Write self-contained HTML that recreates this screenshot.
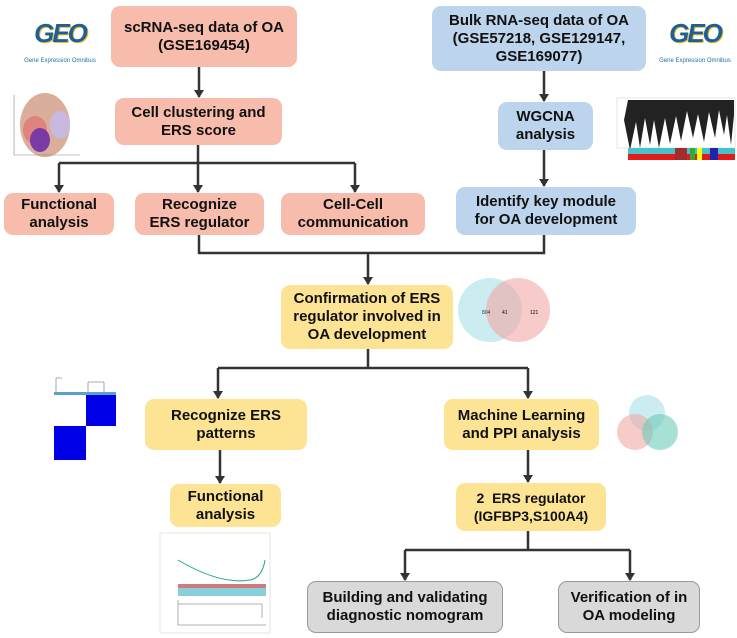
<!DOCTYPE html>
<html><head><style>
body{margin:0;width:737px;height:638px;background:#fff;position:relative;overflow:hidden;font-family:"Liberation Sans",sans-serif}
.b{position:absolute;display:flex;align-items:center;justify-content:center;text-align:center;font-weight:bold;font-size:15px;line-height:18px;color:#111;border-radius:9px;box-sizing:border-box}
.r{background:#f7bcab}.u{background:#bcd5ec}.y{background:#fde495}.g{background:#d9d9d9;border:1.5px solid #999}
svg{position:absolute;left:0;top:0}
.geo{position:absolute;text-align:center;color:#1b6fa8}
.geo b{display:block;font-size:26px;letter-spacing:-2px;font-style:italic;color:#1e5f9b;text-shadow:1px 1px 0 #e7c224}
.geo span{font-size:6px}
</style></head><body>
<svg width="737" height="638">
<g stroke="#333" stroke-width="2.5" fill="none">
<path d="M199 67V97"/><path d="M198 145V163"/><path d="M59 163H355"/><path d="M59 163V192M198 163V192M355 163V192"/>
<path d="M544 71V101"/><path d="M544 150V186"/>
<path d="M199 235V253H544V235"/><path d="M368 253V284"/>
<path d="M368 349V368"/><path d="M218 368H528"/><path d="M218 368V398M528 368V398"/>
<path d="M220 450V483"/><path d="M528 450V482"/>
<path d="M528 531V550"/><path d="M405 550H630"/><path d="M405 550V580M630 550V580"/>
</g>
<g fill="#333">
<path d="M194 90h10l-5 8z"/><path d="M54 185h10l-5 8z"/><path d="M193 185h10l-5 8z"/><path d="M350 185h10l-5 8z"/>
<path d="M539 94h10l-5 8z"/><path d="M539 179h10l-5 8z"/><path d="M363 277h10l-5 8z"/>
<path d="M213 391h10l-5 8z"/><path d="M523 391h10l-5 8z"/><path d="M215 476h10l-5 8z"/><path d="M523 475h10l-5 8z"/>
<path d="M400 573h10l-5 8z"/><path d="M625 573h10l-5 8z"/>
</g>
<circle cx="490" cy="310" r="32" fill="#a9dfe6" opacity=".6"/><circle cx="518" cy="310" r="32" fill="#f2a9a6" opacity=".6"/>
<text x="482" y="314" font-size="5" fill="#333">804</text><text x="502" y="314" font-size="5">41</text><text x="530" y="314" font-size="5">121</text>
<circle cx="647" cy="413" r="18" fill="#a9dfe6" opacity=".6"/><circle cx="635" cy="432" r="18" fill="#f2a9a6" opacity=".6"/><circle cx="660" cy="432" r="18" fill="#6ccbb8" opacity=".6"/>
<rect x="86" y="395" width="30" height="31" fill="#0000e8"/><rect x="54" y="426" width="32" height="34" fill="#0000e8"/>
<rect x="54" y="392" width="62" height="3" fill="#5aa3c8"/>
<path d="M56 392V378H62M88 392V382H104V392" stroke="#555" stroke-width=".5" fill="none"/>
<ellipse cx="45" cy="125" rx="25" ry="32" fill="#c07a5a" opacity=".6"/><ellipse cx="35" cy="130" rx="12" ry="14" fill="#e07070" opacity=".7"/><ellipse cx="40" cy="140" rx="10" ry="12" fill="#7a3aa5"/><ellipse cx="60" cy="125" rx="10" ry="14" fill="#c9b9e0"/>
<path d="M14 95V155H80" stroke="#888" stroke-width=".6" fill="none"/>
<rect x="617" y="98" width="118" height="50" fill="#fff" stroke="#ccc" stroke-width=".5"/>
<path d="M628 100h106v15l-3 30-4-30-3 20-5-25-4 28-6-26-5 30-6-28-5 24-6-27-6 30-5-25-6 28-5-26-6 30-5-28-4 25-5-27-5 30-4-26-6 28-6-30z" fill="#222"/>
<rect x="628" y="148" width="107" height="6" fill="#47c2c8"/><rect x="628" y="154" width="107" height="6" fill="#e21b1b"/>
<rect x="675" y="148" width="12" height="12" fill="#a52a2a"/><rect x="690" y="148" width="5" height="12" fill="#3a3"/><rect x="697" y="148" width="5" height="12" fill="#ff0"/><rect x="710" y="148" width="8" height="12" fill="#22a"/>
<rect x="160" y="533" width="110" height="100" fill="#fff" stroke="#ccc" stroke-width=".5"/>
<path d="M178 560Q220 585 250 580Q262 578 265 560" stroke="#2a8" fill="none"/>
<rect x="178" y="584" width="88" height="12" fill="#5bc" opacity=".7"/><rect x="178" y="584" width="88" height="4" fill="#e55" opacity=".7"/>
<path d="M178 600V625H266M178 604H262V618" stroke="#666" stroke-width=".5" fill="none"/>
</svg>
<div class="geo" style="left:20px;top:18px;width:80px"><b>GEO</b><span>Gene Expression Omnibus</span></div>
<div class="geo" style="left:655px;top:18px;width:80px"><b>GEO</b><span>Gene Expression Omnibus</span></div>
<div class="b r" style="left:111px;top:6px;width:186px;height:61px">scRNA-seq data of OA<br>(GSE169454)</div>
<div class="b u" style="left:432px;top:6px;width:214px;height:65px">Bulk RNA-seq data of OA<br>(GSE57218, GSE129147,<br>GSE169077)</div>
<div class="b r" style="left:115px;top:98px;width:167px;height:47px">Cell clustering and<br>ERS score</div>
<div class="b u" style="left:498px;top:102px;width:95px;height:48px">WGCNA<br>analysis</div>
<div class="b r" style="left:4px;top:193px;width:110px;height:42px">Functional<br>analysis</div>
<div class="b r" style="left:135px;top:193px;width:129px;height:42px">Recognize<br>ERS regulator</div>
<div class="b r" style="left:281px;top:193px;width:144px;height:42px">Cell-Cell<br>communication</div>
<div class="b u" style="left:456px;top:187px;width:180px;height:48px">Identify key module<br>for OA development</div>
<div class="b y" style="left:281px;top:285px;width:172px;height:64px">Confirmation of ERS<br>regulator involved in<br>OA development</div>
<div class="b y" style="left:145px;top:399px;width:162px;height:51px">Recognize ERS<br>patterns</div>
<div class="b y" style="left:444px;top:399px;width:155px;height:51px">Machine Learning<br>and PPI analysis</div>
<div class="b y" style="left:170px;top:484px;width:111px;height:43px">Functional<br>analysis</div>
<div class="b y" style="left:456px;top:483px;width:150px;height:48px;font-size:14px">2&nbsp; ERS regulator<br>(IGFBP3,S100A4)</div>
<div class="b g" style="left:307px;top:581px;width:196px;height:52px">Building and validating<br>diagnostic nomogram</div>
<div class="b g" style="left:558px;top:581px;width:142px;height:52px">Verification of in<br>OA modeling</div>
</body></html>
